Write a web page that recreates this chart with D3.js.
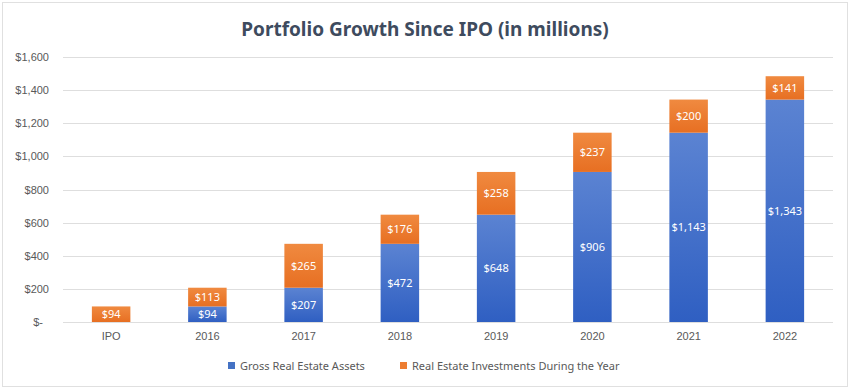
<!DOCTYPE html>
<html>
<head>
<meta charset="utf-8">
<script src="https://cdn.jsdelivr.net/npm/d3@7"></script>
<style>
  body { margin: 0; background: #ffffff; }
  svg { display: block; font-family: "Noto Sans", "Open Sans", sans-serif; }
</style>
</head>
<body>
<div id="chart"></div>
<script>
// data
var categories = ["IPO", "2016", "2017", "2018", "2019", "2020", "2021", "2022"]
var grossAssets = [0, 94, 207, 472, 648, 906, 1143, 1343]
var investments = [94, 113, 265, 176, 258, 237, 200, 141]
var yTicks = [0, 200, 400, 600, 800, 1000, 1200, 1400, 1600]
var seriesNames = ["Gross Real Estate Assets", "Real Estate Investments During the Year"]

var width = 850, height = 389
var margin = { top: 57, right: 17, bottom: 67, left: 63 }

var svg = d3.select("#chart").append("svg")
  .attr("width", width)
  .attr("height", height)

// gradients like the excel fill
var defs = svg.append("defs")
var gBlue = defs.append("linearGradient").attr("id", "gradBlue")
  .attr("x1", 0).attr("y1", 0).attr("x2", 0).attr("y2", 1)
gBlue.append("stop").attr("offset", "0%").attr("stop-color", "#5b83d2")
gBlue.append("stop").attr("offset", "100%").attr("stop-color", "#2f5fc2")
var gOrange = defs.append("linearGradient").attr("id", "gradOrange")
  .attr("x1", 0).attr("y1", 0).attr("x2", 0).attr("y2", 1)
gOrange.append("stop").attr("offset", "0%").attr("stop-color", "#f08a40")
gOrange.append("stop").attr("offset", "100%").attr("stop-color", "#e76f22")

// light frame around the chart
svg.append("rect")
  .attr("x", 2.5).attr("y", 2.5)
  .attr("width", width - 5).attr("height", height - 5)
  .attr("fill", "none")
  .attr("stroke", "#e0e0e0")

var x = d3.scaleBand()
  .domain(categories)
  .range([margin.left, width - margin.right])
  .paddingInner(0.6)
  .paddingOuter(0.3)

var y = d3.scaleLinear()
  .domain([0, 1600])
  .range([height - margin.bottom, margin.top])

// gridlines
svg.append("g")
  .selectAll("line")
  .data(yTicks)
  .enter().append("line")
  .attr("x1", margin.left)
  .attr("x2", width - margin.right)
  .attr("y1", function(d) { return Math.round(y(d)) + 0.5 })
  .attr("y2", function(d) { return Math.round(y(d)) + 0.5 })
  .attr("stroke", "#dedede")
  .attr("stroke-width", 1)

// y axis labels
var yAxis = d3.axisLeft(y)
  .tickValues(yTicks)
  .tickSize(0)
  .tickPadding(14)
  .tickFormat(function(d) { return d === 0 ? "$-" : "$" + d3.format(",")(d) })

svg.append("g")
  .attr("transform", "translate(" + margin.left + ",0)")
  .call(yAxis)
  .call(function(g) { g.select(".domain").remove() })
  .selectAll("text")
  .attr("font-size", 11)
  .attr("fill", "#595959")
  .attr("dx", function(d) { return d === 0 ? -6 : 0 })

// x axis labels
var xAxis = d3.axisBottom(x).tickSize(0).tickPadding(10)
svg.append("g")
  .attr("transform", "translate(0," + y(0) + ")")
  .call(xAxis)
  .call(function(g) { g.select(".domain").remove() })
  .selectAll("text")
  .attr("font-size", 11)
  .attr("fill", "#595959")

// stacked bars
var rows = categories.map(function(c, i) {
  return { cat: c, gross: grossAssets[i], inv: investments[i] }
})

svg.append("g").selectAll("rect")
  .data(rows.filter(function(d) { return d.gross > 0 }))
  .enter().append("rect")
  .attr("x", function(d) { return x(d.cat) })
  .attr("width", x.bandwidth())
  .attr("y", function(d) { return y(d.gross) })
  .attr("height", function(d) { return y(0) - y(d.gross) })
  .attr("fill", "url(#gradBlue)")

svg.append("g").selectAll("rect")
  .data(rows)
  .enter().append("rect")
  .attr("x", function(d) { return x(d.cat) })
  .attr("width", x.bandwidth())
  .attr("y", function(d) { return y(d.gross + d.inv) })
  .attr("height", function(d) { return y(d.gross) - y(d.gross + d.inv) })
  .attr("fill", "url(#gradOrange)")

// value labels
var fmt = function(v) { return "$" + d3.format(",")(v) }

svg.append("g").selectAll("text")
  .data(rows.filter(function(d) { return d.gross > 0 }))
  .enter().append("text")
  .attr("x", function(d) { return x(d.cat) + x.bandwidth() / 2 })
  .attr("y", function(d) { return (y(0) + y(d.gross)) / 2 })
  .attr("dy", "0.35em")
  .attr("text-anchor", "middle")
  .attr("font-size", 11)
  .attr("fill", "#ffffff")
  .text(function(d) { return fmt(d.gross) })

svg.append("g").selectAll("text")
  .data(rows)
  .enter().append("text")
  .attr("x", function(d) { return x(d.cat) + x.bandwidth() / 2 })
  .attr("y", function(d) { return (y(d.gross) + y(d.gross + d.inv)) / 2 })
  .attr("dy", "0.35em")
  .attr("text-anchor", "middle")
  .attr("font-size", 11)
  .attr("fill", "#ffffff")
  .text(function(d) { return fmt(d.inv) })

// title
svg.append("text")
  .text("Portfolio Growth Since IPO (in millions)")
  .attr("x", width / 2)
  .attr("y", 36)
  .attr("text-anchor", "middle")
  .attr("font-size", 19)
  .attr("font-weight", "bold")
  .attr("fill", "#3e4b5e")

// legend
var legendX = [228, 400]
var legendColors = ["#4472c4", "#ed7d31"]
var legend = svg.append("g").selectAll("g")
  .data(seriesNames)
  .enter().append("g")
  .attr("transform", function(d, i) { return "translate(" + legendX[i] + ",366)" })

legend.append("rect")
  .attr("x", 0).attr("y", -4)
  .attr("width", 7).attr("height", 7)
  .attr("fill", function(d, i) { return legendColors[i] })

legend.append("text")
  .attr("x", 12)
  .attr("y", 0)
  .attr("dy", "0.35em")
  .attr("font-size", 11)
  .attr("fill", "#595959")
  .text(function(d) { return d })
</script>
</body>
</html>
